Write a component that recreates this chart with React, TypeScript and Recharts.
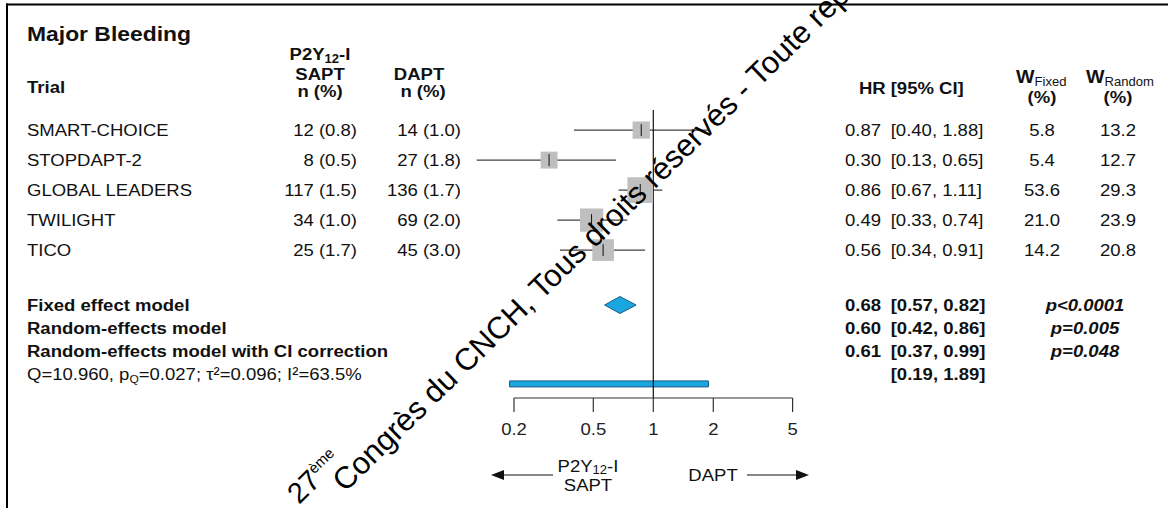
import React from 'react';
import {
  ComposedChart,
  Scatter,
  XAxis,
  YAxis,
  ReferenceLine,
  ReferenceArea,
  ErrorBar,
  Customized,
} from 'recharts';

// ---------------- data ----------------
const trials = ['SMART-CHOICE', 'STOPDAPT-2', 'GLOBAL LEADERS', 'TWILIGHT', 'TICO'];
const saptEvents = ['12 (0.8)', '8 (0.5)', '117 (1.5)', '34 (1.0)', '25 (1.7)'];
const daptEvents = ['14 (1.0)', '27 (1.8)', '136 (1.7)', '69 (2.0)', '45 (3.0)'];
const hr = [0.87, 0.3, 0.86, 0.49, 0.56];
const ciLow = [0.4, 0.13, 0.67, 0.33, 0.34];
const ciHigh = [1.88, 0.65, 1.11, 0.74, 0.91];
const wFixed = [5.8, 5.4, 53.6, 21.0, 14.2];
const wRandom = [13.2, 12.7, 29.3, 23.9, 20.8];

const summaryLabels = ['Fixed effect model', 'Random-effects model', 'Random-effects model with CI correction'];
const summaryHr = [0.68, 0.6, 0.61];
const summaryLow = [0.57, 0.42, 0.37];
const summaryHigh = [0.82, 0.86, 0.99];
const summaryP = ['p<0.0001', 'p=0.005', 'p=0.048'];
const predictionInterval = [0.19, 1.89];
const heterogeneity = { Q: '10.960', pQ: '0.027', tau2: '0.096', I2: '63.5%' };
const xTicks = [0.2, 0.5, 1, 2, 5];
const watermarkLead = '27';
const watermarkSup = 'ème';
const watermarkMain = 'Congrès du CNCH, Tous droits réservés - Toute reproduction interdite';

// ---------------- layout ----------------
const W = 1168;
const H = 508;
const PLOT_TOP = 110;
const UNIT = 30; // px per row unit
const Y_MAX = 9.6;
const MARGIN = { top: PLOT_TOP, right: 315.4, bottom: 80, left: 454 };
const TRIAL_ROW0 = 0.67;
const SUMMARY_ROWS = [6.5, 7.27, 8.03, 8.8];
const PRED_ROW = 9.13;
const BOX_K = 4.75;
const DIAMOND_HALF = 8.5;
const FONT = "'Liberation Sans', Arial, Helvetica, sans-serif";
const SX = 1.09;
const FS = 17;
const BLUE = '#1aa6df';
const BLUE_EDGE = '#1b5a86';
const INK = '#111';

const rowPx = (r: number) => PLOT_TOP + r * UNIT;
const fmt2 = (v: number) => v.toFixed(2);
const fmt1 = (v: number) => v.toFixed(1);
const ciText = (lo: number, hi: number) => `[${fmt2(lo)}, ${fmt2(hi)}]`;

const trialData = trials.map((name, i) => ({
  name,
  x: hr[i],
  y: TRIAL_ROW0 + i,
  w: wRandom[i],
  err: [hr[i] - ciLow[i], ciHigh[i] - hr[i]],
}));

const diamondData = [
  { x: summaryLow[0], y: SUMMARY_ROWS[0] },
  { x: summaryHr[0], y: SUMMARY_ROWS[0] },
  { x: summaryHigh[0], y: SUMMARY_ROWS[0] },
];

// ---------------- helpers ----------------
type TProps = {
  x: number;
  y: number; // baseline
  children: React.ReactNode;
  size?: number;
  weight?: string;
  anchor?: 'start' | 'middle' | 'end';
  italic?: boolean;
  fill?: string;
};
function T({ x, y, children, size = FS, weight = 'normal', anchor = 'start', italic = false, fill = INK }: TProps) {
  return (
    <text
      transform={`translate(${x},${y}) scale(${SX},1)`}
      fontSize={size}
      fontWeight={weight}
      fontStyle={italic ? 'italic' : 'normal'}
      textAnchor={anchor}
      fill={fill}
      fontFamily={FONT}
    >
      {children}
    </text>
  );
}

const base = (center: number, size = FS) => center + size * 0.36;

const boxShape = (p: any) => {
  const s = BOX_K * Math.sqrt(p.payload.w);
  return <rect x={p.cx - s / 2} y={p.cy - s / 2} width={s} height={s} fill="#bfbfbf" />;
};
const tickShape = (p: any) => (
  <line x1={p.cx} x2={p.cx} y1={p.cy - 6} y2={p.cy + 6} stroke={INK} strokeWidth={1} />
);
const emptyShape = () => <g />;
const diamondLine = (props: any) => {
  const pts = props.points || [];
  if (pts.length < 3) return <g />;
  const [a, b, c] = pts;
  return (
    <polygon
      points={`${a.x},${a.y} ${b.x},${b.y - DIAMOND_HALF} ${c.x},${c.y} ${b.x},${b.y + DIAMOND_HALF}`}
      fill={BLUE}
      stroke={BLUE_EDGE}
      strokeWidth={1}
    />
  );
};

const XTick = (p: any) => (
  <T x={p.x} y={p.y + 12} anchor="middle" fill="#222">
    {String(p.payload.value)}
  </T>
);

function TableLayer() {
  const colSaptEnd = 357;
  const colDaptEnd = 461;
  const hrX = 845;
  const ciX = 890.7;
  const wfX = 1042;
  const wrX = 1118;
  const pX = 1085;
  return (
    <g>
      {/* headers */}
      <T x={27} y={41} size={21} weight="bold">Major Bleeding</T>
      <T x={27} y={93} weight="bold">Trial</T>
      <T x={320} y={60} weight="bold" anchor="middle">
        P2Y<tspan fontSize={12} dy={3}>12</tspan>
        <tspan dy={-3}>-I</tspan>
      </T>
      <T x={320} y={80} weight="bold" anchor="middle">SAPT</T>
      <T x={320} y={97} weight="bold" anchor="middle">n (%)</T>
      <T x={419} y={80} weight="bold" anchor="middle">DAPT</T>
      <T x={423} y={97} weight="bold" anchor="middle">n (%)</T>
      <T x={859} y={94} weight="bold">HR</T>
      <T x={ciX} y={94} weight="bold">[95% CI]</T>
      <T x={1016} y={83} weight="bold" size={18}>
        W<tspan fontSize={12} fontWeight="normal" dy={3}>Fixed</tspan>
      </T>
      <T x={1042} y={103} weight="bold" anchor="middle">(%)</T>
      <T x={1086} y={83} weight="bold" size={18}>
        W<tspan fontSize={12} fontWeight="normal" dy={3}>Random</tspan>
      </T>
      <T x={1118} y={103} weight="bold" anchor="middle">(%)</T>

      {/* trial rows */}
      {trials.map((name, i) => {
        const yb = base(rowPx(TRIAL_ROW0 + i));
        return (
          <g key={name}>
            <T x={27} y={yb}>{name}</T>
            <T x={colSaptEnd} y={yb} anchor="end">{saptEvents[i]}</T>
            <T x={colDaptEnd} y={yb} anchor="end">{daptEvents[i]}</T>
            <T x={hrX} y={yb}>{fmt2(hr[i])}</T>
            <T x={ciX} y={yb}>{ciText(ciLow[i], ciHigh[i])}</T>
            <T x={wfX} y={yb} anchor="middle">{fmt1(wFixed[i])}</T>
            <T x={wrX} y={yb} anchor="middle">{fmt1(wRandom[i])}</T>
          </g>
        );
      })}

      {/* summary rows */}
      {summaryLabels.map((label, i) => {
        const yb = base(rowPx(SUMMARY_ROWS[i]));
        return (
          <g key={label}>
            <T x={27} y={yb} weight="bold">{label}</T>
            <T x={hrX} y={yb} weight="bold">{fmt2(summaryHr[i])}</T>
            <T x={ciX} y={yb} weight="bold">{ciText(summaryLow[i], summaryHigh[i])}</T>
            <T x={pX} y={yb} weight="bold" italic anchor="middle">{summaryP[i]}</T>
          </g>
        );
      })}
      <T x={27} y={base(rowPx(SUMMARY_ROWS[3]))}>
        {`Q=${heterogeneity.Q}, p`}
        <tspan fontSize={11} dy={3}>Q</tspan>
        <tspan dy={-3}>{`=${heterogeneity.pQ}; τ²=${heterogeneity.tau2}; I²=${heterogeneity.I2}`}</tspan>
      </T>
      <T x={ciX} y={base(rowPx(SUMMARY_ROWS[3]))} weight="bold">
        {ciText(predictionInterval[0], predictionInterval[1])}
      </T>

      {/* direction labels */}
      <T x={588} y={472} anchor="middle">
        P2Y<tspan fontSize={12} dy={2}>12</tspan>
        <tspan dy={-2}>-I</tspan>
      </T>
      <T x={588} y={491} anchor="middle">SAPT</T>
      <T x={713} y={481} anchor="middle">DAPT</T>
      <line x1={502} x2={553} y1={475} y2={475} stroke={INK} strokeWidth={1.2} />
      <polygon points="491,475 504,470 504,480" fill={INK} />
      <line x1={747} x2={797} y1={475} y2={475} stroke={INK} strokeWidth={1.2} />
      <polygon points="809,475 796,470 796,480" fill={INK} />
    </g>
  );
}

function Overlay() {
  const angle = -44.4;
  return (
    <svg
      width={W}
      height={H}
      style={{ position: 'absolute', left: 0, top: 0, pointerEvents: 'none' }}
    >
      <line x1={7} x2={7} y1={3.5} y2={H} stroke="#000" strokeWidth={2} />
      <line x1={6} x2={W} y1={4.5} y2={4.5} stroke="#000" strokeWidth={2} />
      <text
        transform={`translate(299,505) rotate(${angle})`}
        fontSize={29}
        fontFamily={FONT}
        fill="#000"
      >
        {watermarkLead}
        <tspan fontSize={15} dy={-11}>{watermarkSup}</tspan>
      </text>
      <text
        transform={`translate(345,493) rotate(${angle})`}
        fontSize={31}
        fontFamily={FONT}
        fill="#000"
      >
        {watermarkMain}
      </text>
    </svg>
  );
}

export default function App() {
  return (
    <div style={{ position: 'absolute', left: 0, top: 0, width: W, height: H, background: '#fff' }}>
      <ComposedChart width={W} height={H} margin={MARGIN}>
        <XAxis
          dataKey="x"
          type="number"
          scale="log"
          domain={[0.1, 10]}
          ticks={xTicks}
          interval={0}
          axisLine={false}
          tickLine={{ stroke: '#333', strokeWidth: 1.2 }}
          tickSize={14}
          tickMargin={11}
          tick={XTick}
          allowDataOverflow
        />
        <YAxis type="number" dataKey="y" domain={[0, Y_MAX]} reversed hide width={0} />
        <ReferenceLine x={1} stroke={INK} strokeWidth={1.2} />
        <ReferenceLine
          segment={[
            { x: xTicks[0], y: Y_MAX },
            { x: xTicks[xTicks.length - 1], y: Y_MAX },
          ]}
          stroke="#333"
          strokeWidth={1.2}
          ifOverflow="visible"
        />
        <ReferenceArea
          x1={predictionInterval[0]}
          x2={predictionInterval[1]}
          y1={PRED_ROW - 0.1}
          y2={PRED_ROW + 0.1}
          fill={BLUE}
          fillOpacity={1}
          stroke={BLUE_EDGE}
          strokeWidth={1}
          ifOverflow="visible"
        />
        <Scatter data={trialData} shape={boxShape} isAnimationActive={false} />
        <Scatter data={trialData} shape={tickShape} isAnimationActive={false}>
          <ErrorBar dataKey="err" direction="x" width={0} stroke={INK} strokeWidth={1} />
        </Scatter>
        <Scatter data={diamondData} shape={emptyShape} line={diamondLine} isAnimationActive={false} />
        <Customized component={TableLayer} />
      </ComposedChart>
      <Overlay />
    </div>
  );
}
